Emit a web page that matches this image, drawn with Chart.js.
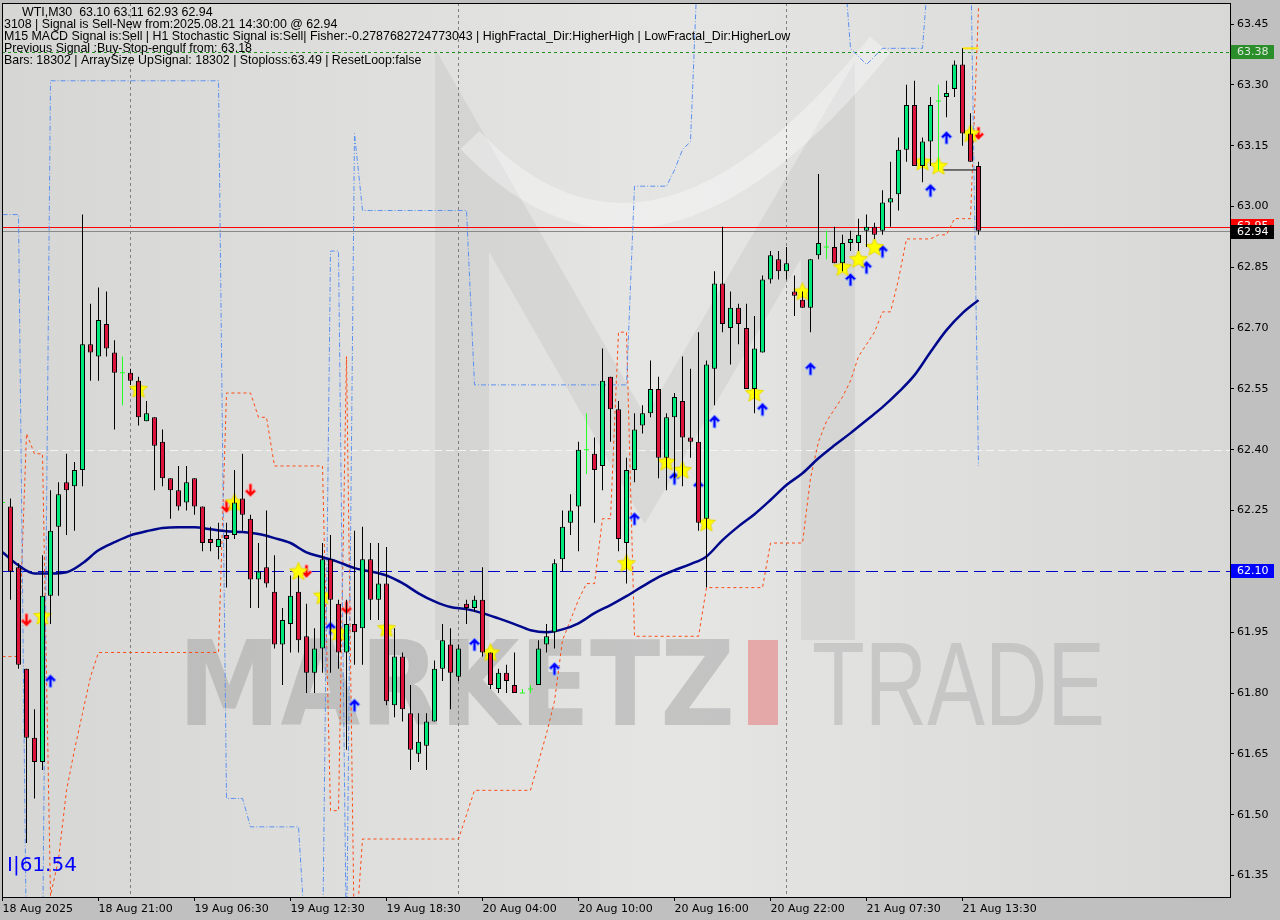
<!DOCTYPE html>
<html>
<head>
<meta charset="utf-8">
<title>WTI,M30</title>
<script src="https://cdn.jsdelivr.net/npm/chart.js@4.4.1/dist/chart.umd.min.js"></script>
<style>
html, body { margin: 0; padding: 0; background: #c0c0c0; }
#wrap { width: 1280px; height: 920px; }
</style>
</head>
<body>
<div id="wrap"><canvas id="chart" width="1280" height="920"></canvas></div>
<script>
// WTI M30 candles, one entry per bar (bar 0 = 18 Aug 2025)
const opens = [
  62.27, 62.26, 62.11, 61.86, 61.69, 61.63, 62.04, 62.21, 62.32, 62.31,
  62.35, 62.66, 62.63, 62.71, 62.64, 62.59, 62.59, 62.57, 62.47, 62.48,
  62.42, 62.33, 62.30, 62.27, 62.33, 62.26, 62.18, 62.16, 62.19, 62.19,
  62.28, 62.23, 62.08, 62.11, 62.05, 61.92, 61.97, 62.05, 61.94, 61.85,
  61.91, 62.13, 62.02, 61.90, 61.97, 61.96, 62.13, 62.03, 62.07, 61.77,
  61.89, 61.75, 61.65, 61.67, 61.73, 61.86, 61.92, 61.84, 62.02, 62.01,
  62.03, 61.90, 61.81, 61.85, 61.82, 61.80, 61.81, 61.82, 61.92, 61.95,
  62.13, 62.22, 62.26, 62.40, 62.39, 62.36, 62.58, 62.50, 62.17, 62.35,
  62.46, 62.49, 62.55, 62.38, 62.48, 62.52, 62.43, 62.42, 62.23, 62.60,
  62.81, 62.70, 62.75, 62.70, 62.55, 62.64, 62.82, 62.87, 62.84, 62.79,
  62.77, 62.75, 62.88, 62.90, 62.90, 62.86, 62.91, 62.91, 62.94, 62.95,
  62.94, 63.01, 63.03, 63.14, 63.25, 63.10, 63.16, 63.26, 63.27, 63.29,
  63.35, 63.18, 63.10
];
const highs = [
  62.33, 62.28, 62.12, 61.86, 61.76, 62.14, 62.30, 62.32, 62.39, 62.37,
  62.98, 62.76, 62.80, 62.79, 62.67, 62.63, 62.60, 62.58, 62.52, 62.48,
  62.45, 62.33, 62.36, 62.36, 62.33, 62.26, 62.21, 62.22, 62.22, 62.35,
  62.39, 62.24, 62.17, 62.25, 62.14, 62.01, 62.09, 62.09, 62.02, 61.96,
  62.17, 62.19, 62.03, 62.03, 62.20, 62.21, 62.17, 62.17, 62.16, 61.96,
  61.90, 61.82, 61.75, 61.75, 61.88, 61.97, 61.96, 61.92, 62.03, 62.04,
  62.11, 61.90, 61.86, 61.87, 61.90, 61.81, 61.82, 61.93, 61.97, 62.13,
  62.25, 62.29, 62.42, 62.49, 62.43, 62.65, 62.58, 62.52, 62.38, 62.49,
  62.51, 62.62, 62.58, 62.49, 62.54, 62.63, 62.60, 62.69, 62.62, 62.84,
  62.95, 62.79, 62.76, 62.76, 62.73, 62.83, 62.89, 62.89, 62.90, 62.83,
  62.79, 62.87, 63.08, 62.94, 62.95, 62.93, 62.94, 62.97, 62.98, 62.96,
  63.04, 63.11, 63.17, 63.30, 63.31, 63.17, 63.27, 63.30, 63.31, 63.36,
  63.39, 63.23, 63.11
];
const lows = [
  62.22, 62.03, 61.86, 61.43, 61.54, 61.61, 61.97, 62.04, 62.19, 62.20,
  62.31, 62.57, 62.57, 62.63, 62.45, 62.51, 62.56, 62.46, 62.47, 62.30,
  62.31, 62.23, 62.25, 62.25, 62.24, 62.15, 62.15, 62.13, 62.06, 62.18,
  62.20, 62.01, 62.01, 62.06, 61.91, 61.82, 61.90, 61.90, 61.80, 61.80,
  61.85, 61.85, 61.86, 61.66, 61.87, 61.87, 61.98, 61.98, 61.77, 61.74,
  61.73, 61.61, 61.63, 61.61, 61.73, 61.83, 61.76, 61.83, 61.97, 62.00,
  61.89, 61.81, 61.80, 61.80, 61.80, 61.80, 61.80, 61.82, 61.90, 61.91,
  62.10, 62.19, 62.15, 62.34, 62.22, 62.30, 62.42, 62.15, 62.07, 62.32,
  62.44, 62.48, 62.33, 62.30, 62.33, 62.31, 62.38, 62.20, 62.06, 62.51,
  62.69, 62.61, 62.66, 62.55, 62.49, 62.64, 62.81, 62.82, 62.82, 62.73,
  62.75, 62.69, 62.87, 62.87, 62.86, 62.84, 62.89, 62.89, 62.90, 62.92,
  62.93, 62.95, 62.99, 63.11, 63.10, 63.06, 63.10, 63.09, 63.22, 63.27,
  63.15, 63.11, 62.93
];
const closes = [
  62.27, 62.10, 61.87, 61.69, 61.63, 62.04, 62.20, 62.29, 62.30, 62.35,
  62.66, 62.64, 62.72, 62.65, 62.59, 62.59, 62.57, 62.48, 62.49, 62.41,
  62.33, 62.30, 62.26, 62.32, 62.26, 62.17, 62.17, 62.18, 62.18, 62.27,
  62.24, 62.08, 62.10, 62.07, 61.92, 61.98, 62.04, 61.93, 61.85, 61.91,
  62.13, 62.03, 61.90, 61.97, 61.95, 62.13, 62.03, 62.07, 61.78, 61.89,
  61.76, 61.66, 61.68, 61.73, 61.86, 61.93, 61.85, 61.91, 62.01, 62.03,
  61.90, 61.82, 61.85, 61.83, 61.80, 61.80, 61.81, 61.91, 61.94, 62.12,
  62.21, 62.25, 62.40, 62.40, 62.35, 62.57, 62.50, 62.18, 62.35, 62.45,
  62.49, 62.55, 62.38, 62.48, 62.53, 62.43, 62.42, 62.22, 62.61, 62.81,
  62.71, 62.75, 62.71, 62.55, 62.65, 62.82, 62.88, 62.84, 62.86, 62.78,
  62.75, 62.87, 62.91, 62.90, 62.86, 62.91, 62.92, 62.93, 62.95, 62.93,
  63.01, 63.02, 63.14, 63.25, 63.10, 63.16, 63.25, 63.26, 63.28, 63.35,
  63.18, 63.11, 62.94
];

// moving average, read every second bar
const maBars = [
  0, 2, 4, 6, 8, 10, 12, 14, 16, 18, 20, 22, 24, 26, 28, 30, 32, 34, 36, 38,
  40, 42, 44, 46, 48, 50, 52, 54, 56, 58, 60, 62, 64, 66, 68, 70, 72, 74, 76, 78,
  80, 82, 84, 86, 88, 90, 92, 94, 96, 98, 100, 102, 104, 106, 108, 110, 112, 114, 116, 118,
  120, 122
];
const maValues = [
  62.147, 62.115, 62.095, 62.095, 62.098, 62.120, 62.152, 62.172, 62.189, 62.199,
  62.207, 62.209, 62.209, 62.204, 62.199, 62.197, 62.192, 62.182, 62.170, 62.147,
  62.135, 62.123, 62.108, 62.100, 62.090, 62.071, 62.046, 62.026, 62.012, 62.007,
  61.997, 61.984, 61.970, 61.955, 61.950, 61.957, 61.972, 61.997, 62.017, 62.039,
  62.063, 62.086, 62.103, 62.118, 62.137, 62.177, 62.211, 62.241, 62.276, 62.313,
  62.342, 62.379, 62.411, 62.441, 62.473, 62.505, 62.542, 62.584, 62.641, 62.695,
  62.737, 62.769
];

// channel lines, one value per bar (values off the chart run out of view)
const upperBand = [
  62.98, 62.98, 62.98, 61.15, 61.15, 61.15, 63.31, 63.31, 63.31, 63.31,
  63.31, 63.31, 63.31, 63.31, 63.31, 63.31, 63.31, 63.31, 63.31, 63.31,
  63.31, 63.31, 63.31, 63.31, 63.31, 63.31, 63.31, 63.31, 61.54, 61.54,
  61.54, 61.47, 61.47, 61.47, 61.47, 61.47, 61.47, 61.47, 61.15, 61.15,
  61.15, 62.89, 62.89, 61.15, 63.18, 62.99, 62.99, 62.99, 62.99, 62.99,
  62.99, 62.99, 62.99, 62.99, 62.99, 62.99, 62.99, 62.99, 62.99, 62.56,
  62.56, 62.56, 62.56, 62.56, 62.56, 62.56, 62.56, 62.56, 62.56, 62.56,
  62.56, 62.56, 62.56, 62.56, 62.56, 62.56, 62.56, 62.56, 62.56, 63.05,
  63.05, 63.05, 63.05, 63.05, 63.09, 63.14, 63.16, 63.65, 63.65, 63.65,
  63.65, 63.65, 63.65, 63.65, 63.65, 63.65, 63.65, 63.65, 63.65, 63.65,
  63.65, 63.65, 63.65, 63.65, 63.65, 63.65, 63.39, 63.37, 63.35, 63.37,
  63.39, 63.39, 63.39, 63.39, 63.39, 63.39, 63.65, 63.65, 63.65, 63.65,
  63.65, 63.65, 62.36
];
const lowerBand = [
  61.89, 61.89, 61.89, 62.44, 62.39, 62.39, 61.30, 61.39, 61.56, 61.66,
  61.75, 61.84, 61.90, 61.90, 61.90, 61.90, 61.90, 61.90, 61.90, 61.90,
  61.90, 61.90, 61.90, 61.90, 61.90, 61.90, 61.90, 61.90, 62.54, 62.54,
  62.54, 62.54, 62.48, 62.48, 62.36, 62.36, 62.36, 62.36, 62.36, 62.36,
  62.36, 61.51, 61.51, 62.63, 61.15, 61.44, 61.44, 61.44, 61.44, 61.44,
  61.44, 61.44, 61.44, 61.44, 61.44, 61.44, 61.44, 61.44, 61.50, 61.56,
  61.56, 61.56, 61.56, 61.56, 61.56, 61.56, 61.56, 61.63, 61.70, 61.78,
  61.93, 61.98, 62.03, 62.07, 62.07, 62.23, 62.23, 62.69, 62.69, 61.94,
  61.94, 61.94, 61.94, 61.94, 61.94, 61.94, 61.94, 61.94, 62.06, 62.06,
  62.06, 62.06, 62.06, 62.06, 62.06, 62.06, 62.17, 62.17, 62.17, 62.17,
  62.17, 62.33, 62.42, 62.47, 62.50, 62.53, 62.57, 62.63, 62.66, 62.69,
  62.74, 62.74, 62.82, 62.92, 62.92, 62.92, 62.92, 62.93, 62.93, 62.97,
  62.97, 62.97, 63.49
];

// signal markers
const starBars = [5, 17, 29, 37, 40, 42, 48, 61, 78, 83, 85, 88, 94, 100, 105, 107, 109, 115, 117, 121];
const starPrices = [61.99, 62.55, 62.27, 62.10, 62.04, 61.95, 61.96, 61.90, 62.12, 62.37, 62.35, 62.22, 62.54, 62.79, 62.85, 62.87, 62.90, 63.11, 63.10, 63.18];
const upBars = [6, 41, 44, 59, 69, 79, 84, 87, 89, 95, 101, 106, 108, 110, 116, 118];
const upPrices = [61.83, 61.96, 61.77, 61.92, 61.86, 62.23, 62.33, 62.31, 62.47, 62.50, 62.60, 62.82, 62.85, 62.89, 63.04, 63.17];
const downBars = [3, 28, 31, 38, 43, 122];
const downPrices = [61.98, 62.26, 62.30, 62.10, 62.01, 63.18];

const stopBars = [120, 122];
const stopPrice = 63.39;
const pivotBars = [117, 122];
const pivotPrice = 63.09;

// horizontal levels: green dashed, red, bid, blue dashed, white dashed
const levelPrices = [63.38, 62.95, 62.94, 62.10, 62.40];
const dayBreaks = [16, 57, 98];

const priceTicks = [61.35, 61.50, 61.65, 61.80, 61.95, 62.10, 62.25, 62.40, 62.55, 62.70, 62.85, 63.00, 63.15, 63.30, 63.45];
const tickBars = [0, 12, 24, 36, 48, 60, 72, 84, 96, 108, 120];
const tickLabels = ['18 Aug 2025', '18 Aug 21:00', '19 Aug 06:30', '19 Aug 12:30', '19 Aug 18:30', '20 Aug 04:00',
  '20 Aug 10:00', '20 Aug 16:00', '20 Aug 22:00', '21 Aug 07:30', '21 Aug 13:30'];

const headerLines = [
  'WTI,M30  63.10 63.11 62.93 62.94',
  '3108 | Signal is Sell-New from:2025.08.21 14:30:00 @ 62.94',
  'M15 MACD Signal is:Sell | H1 Stochastic Signal is:Sell| Fisher:-0.2787682724773043 | HighFractal_Dir:HigherHigh | LowFractal_Dir:HigherLow',
  'Previous Signal :Buy-Stop-engulf from: 63.18',
  'Bars: 18302 | ArraySize UpSignal: 18302 | Stoploss:63.49 | ResetLoop:false'
];
const footerLabel = 'I|61.54';

const BULL = '#00e878';
const BEAR = '#dc143c';
const DOJI = '#22ff22';

function makeStar(size) {
  const c = document.createElement('canvas');
  c.width = c.height = size;
  const g = c.getContext('2d');
  const cx = size / 2, cy = size / 2 + 0.5, r = size / 2 - 0.5, r2 = r * 0.45;
  g.beginPath();
  for (let k = 0; k < 10; k++) {
    const a = -Math.PI / 2 + k * Math.PI / 5;
    const rr = k % 2 ? r2 : r;
    g.lineTo(cx + rr * Math.cos(a), cy + rr * Math.sin(a));
  }
  g.closePath();
  g.fillStyle = '#ffff00';
  g.fill();
  g.strokeStyle = '#e8d800';
  g.lineWidth = 1;
  g.stroke();
  return c;
}

function makeArrow(fill, edge, up) {
  const c = document.createElement('canvas');
  c.width = 13; c.height = 15;
  const g = c.getContext('2d');
  if (!up) { g.translate(0, 15); g.scale(1, -1); }
  g.beginPath();
  g.moveTo(6.5, 1);
  g.lineTo(12, 6.5);
  g.lineTo(10, 8.5);
  g.lineTo(8, 6.5);
  g.lineTo(8, 14);
  g.lineTo(5, 14);
  g.lineTo(5, 6.5);
  g.lineTo(3, 8.5);
  g.lineTo(1, 6.5);
  g.closePath();
  g.fillStyle = fill;
  g.fill();
  g.strokeStyle = edge;
  g.lineWidth = 1;
  g.stroke();
  return c;
}

function fitText(ctx, text, x, y, w) {
  const m = ctx.measureText(text).width;
  ctx.save();
  ctx.translate(x, y);
  ctx.scale(w / m, 1);
  ctx.fillText(text, 0, 0);
  ctx.restore();
}

function priceBox(ctx, y, text, bg, fg) {
  ctx.fillStyle = bg;
  ctx.fillRect(1231, Math.round(y) - 7, 43, 14);
  ctx.fillStyle = fg;
  ctx.textBaseline = 'middle';
  ctx.textAlign = 'left';
  ctx.fillText(text, 1237, Math.round(y));
}

const mtPlugin = {
  id: 'mt',
  beforeDraw(chart) {
    const {ctx, chartArea: a} = chart;
    ctx.save();
    ctx.fillStyle = '#c0c0c0';
    ctx.fillRect(0, 0, chart.width, chart.height);
    const g = ctx.createLinearGradient(a.left, 0, a.right, 0);
    g.addColorStop(0, '#d6d6d5');
    g.addColorStop(0.55, '#e5e5e4');
    g.addColorStop(1, '#d8d8d7');
    ctx.fillStyle = g;
    ctx.fillRect(a.left, a.top, a.right - a.left, a.bottom - a.top);

    ctx.beginPath();
    ctx.rect(a.left, a.top, a.right - a.left, a.bottom - a.top);
    ctx.clip();
    // background logo
    ctx.strokeStyle = 'rgba(150,150,150,0.15)';
    ctx.lineWidth = 54;
    ctx.lineJoin = 'miter';
    ctx.beginPath();
    ctx.moveTo(462, 640);
    ctx.lineTo(462, 150);
    ctx.lineTo(645, 470);
    ctx.lineTo(828, 160);
    ctx.lineTo(828, 640);
    ctx.stroke();
    ctx.strokeStyle = 'rgba(255,255,255,0.35)';
    ctx.lineWidth = 26;
    ctx.beginPath();
    ctx.moveTo(470, 140);
    ctx.quadraticCurveTo(650, 330, 880, 45);
    ctx.stroke();

    // watermark
    ctx.textBaseline = 'alphabetic';
    ctx.fillStyle = 'rgba(150,150,150,0.42)';
    ctx.font = 'bold 118px "DejaVu Sans"';
    fitText(ctx, 'MARKETZ', 178, 725, 557);
    ctx.fillStyle = 'rgba(230,120,120,0.55)';
    ctx.fillRect(748, 640, 30, 85);
    ctx.fillStyle = 'rgba(160,160,160,0.38)';
    ctx.font = '118px "Liberation Sans"';
    fitText(ctx, 'TRADE', 812, 725, 293);
    ctx.restore();
  },
  beforeDatasetsDraw(chart) {
    const {ctx, chartArea: a, scales: {x, y}} = chart;
    ctx.save();
    ctx.lineWidth = 1;
    ctx.strokeStyle = '#808080';
    ctx.setLineDash([3, 3]);
    dayBreaks.forEach(b => {
      const px = Math.floor(x.getPixelForValue(b)) + 0.5;
      ctx.beginPath();
      ctx.moveTo(px, a.top);
      ctx.lineTo(px, a.bottom);
      ctx.stroke();
    });
    const styles = [
      {c: '#1f8f1f', d: [3, 3]},
      {c: '#ff0000', d: []},
      {c: '#888888', d: []},
      {c: '#0000c8', d: [12, 6]},
      {c: '#f4f4f4', d: [8, 4]}
    ];
    levelPrices.forEach((p, k) => {
      const py = Math.round(y.getPixelForValue(p)) + 0.5;
      ctx.strokeStyle = styles[k].c;
      ctx.setLineDash(styles[k].d);
      ctx.beginPath();
      ctx.moveTo(a.left, py);
      ctx.lineTo(a.right, py);
      ctx.stroke();
    });
    ctx.restore();
  },
  afterDraw(chart) {
    const {ctx, chartArea: a, scales: {y}} = chart;
    ctx.save();
    ctx.strokeStyle = '#000';
    ctx.lineWidth = 1;
    ctx.strokeRect(a.left + 0.5, a.top + 0.5, a.right - a.left, a.bottom - a.top);

    ctx.fillStyle = '#000';
    ctx.font = '12.4px "Liberation Sans"';
    ctx.textBaseline = 'middle';
    ctx.textAlign = 'left';
    headerLines.forEach((t, k) => {
      ctx.fillText(t, k === 0 ? 22 : 4, 13 + k * 12);
    });

    ctx.font = '11px "DejaVu Sans"';
    priceBox(ctx, y.getPixelForValue(levelPrices[0]), levelPrices[0].toFixed(2), '#2a8f2a', '#dfe8df');
    priceBox(ctx, y.getPixelForValue(levelPrices[1]) - 1, levelPrices[1].toFixed(2), '#ff0000', '#ffffff');
    priceBox(ctx, y.getPixelForValue(levelPrices[2]) + 1, levelPrices[2].toFixed(2), '#000000', '#ffffff');
    priceBox(ctx, y.getPixelForValue(levelPrices[3]), levelPrices[3].toFixed(2), '#0000ff', '#ffffff');

    ctx.fillStyle = '#0000ff';
    ctx.font = '20px "DejaVu Sans"';
    ctx.textBaseline = 'middle';
    ctx.fillText(footerLabel, 7, 866);
    ctx.restore();
  }
};

const isDoji = opens.map((o, i) => o === closes[i]);
const pts = (bars, vals) => bars.map((b, k) => ({x: b, y: Array.isArray(vals) ? vals[k] : vals}));
const perBar = vals => vals.map((v, i) => ({x: i, y: v}));

new Chart(document.getElementById('chart'), {
  type: 'bar',
  data: {
    datasets: [
      {
        type: 'line', data: perBar(upperBand), borderColor: '#5a90f0', borderWidth: 1,
        borderDash: [5, 2, 1, 2], pointRadius: 0, order: 8
      },
      {
        type: 'line', data: perBar(lowerBand), borderColor: '#ff4a12', borderWidth: 1,
        borderDash: [3, 3], pointRadius: 0, order: 8
      },
      {
        type: 'line', data: pts(maBars, maValues), borderColor: '#00088c', borderWidth: 2.5,
        pointRadius: 0, cubicInterpolationMode: 'monotone', order: 7
      },
      {
        type: 'line', data: pts(stopBars, stopPrice), borderColor: '#ffe600', borderWidth: 2,
        pointRadius: 0, order: 6
      },
      {
        type: 'line', data: pts(pivotBars, pivotPrice), borderColor: '#000000', borderWidth: 1,
        pointRadius: 0, order: 6
      },
      {
        type: 'line', data: pts(starBars, starPrices), showLine: false, pointRadius: 6,
        pointStyle: makeStar(20), order: 5
      },
      {
        type: 'line', data: pts(upBars, upPrices), showLine: false, pointRadius: 6,
        pointStyle: makeArrow('#0000ff', '#8fb0ff', true), order: 5
      },
      {
        type: 'line', data: pts(downBars, downPrices), showLine: false, pointRadius: 6,
        pointStyle: makeArrow('#ff0000', '#ff9a9a', false), order: 5
      },
      {
        data: highs.map((h, i) => ({x: i, y: [lows[i], h]})),
        backgroundColor: isDoji.map(d => d ? DOJI : '#000000'),
        borderWidth: 0, barThickness: 1, grouped: false, borderSkipped: false,
        inflateAmount: 0, order: 3
      },
      {
        data: opens.map((o, i) => ({x: i, y: [o, closes[i]]})),
        backgroundColor: opens.map((o, i) => closes[i] > o ? BULL : (closes[i] < o ? BEAR : DOJI)),
        borderColor: '#000000', borderWidth: 1, barThickness: 5, grouped: false,
        borderSkipped: false, inflateAmount: 0, order: 2
      },
      {
        type: 'line',
        data: opens.map((o, i) => ({x: i, y: o})).filter((p, i) => isDoji[i]),
        showLine: false, pointStyle: 'line', pointRadius: 2.5, borderColor: DOJI,
        borderWidth: 1, order: 1
      }
    ]
  },
  options: {
    responsive: false,
    animation: false,
    events: [],
    layout: {autoPadding: false, padding: {left: 2, top: 3, right: 0, bottom: 0}},
    plugins: {legend: {display: false}, tooltip: {enabled: false}},
    scales: {
      x: {
        type: 'linear', min: -0.0625, max: 153.4375, offset: false,
        afterBuildTicks: s => { s.ticks = tickBars.map(v => ({value: v})); },
        afterFit: s => { s.height = 23; s.paddingLeft = 0; s.paddingRight = 0; },
        ticks: {
          autoSkip: false, maxRotation: 0, align: 'start', padding: 2, color: '#000',
          font: {family: 'DejaVu Sans', size: 11},
          callback: (v, i) => tickLabels[i]
        },
        grid: {drawOnChartArea: false, drawTicks: true, tickLength: 4, color: '#000', offset: false},
        border: {display: true, color: '#000', width: 1}
      },
      y: {
        type: 'linear', position: 'right', min: 61.297, max: 63.5018,
        afterBuildTicks: s => { s.ticks = priceTicks.map(v => ({value: v})); },
        afterFit: s => { s.width = 50; s.paddingTop = 0; s.paddingBottom = 0; },
        ticks: {
          padding: 3, color: '#000', font: {family: 'DejaVu Sans', size: 11},
          callback: v => v.toFixed(2)
        },
        grid: {drawOnChartArea: false, drawTicks: true, tickLength: 4, color: '#000'},
        border: {display: true, color: '#000', width: 1}
      }
    }
  },
  plugins: [mtPlugin]
});
</script>
</body>
</html>
